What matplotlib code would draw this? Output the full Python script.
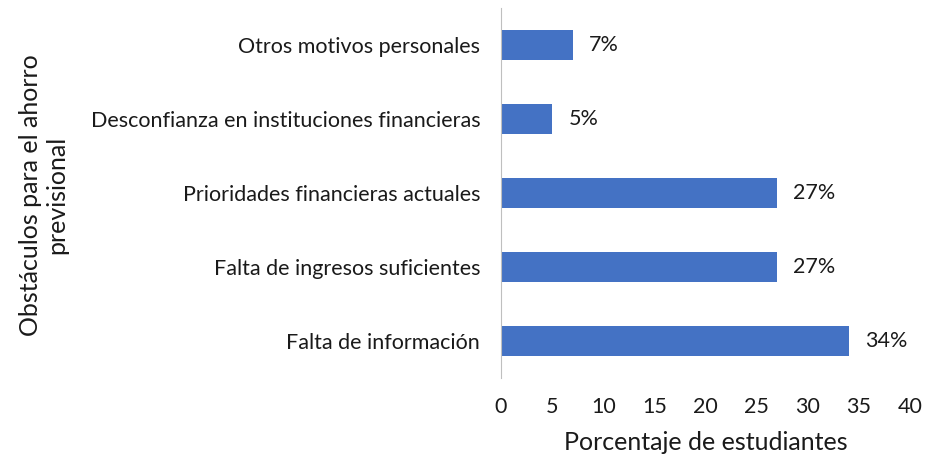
import matplotlib.pyplot as plt

plt.rcParams['font.family'] = ['Lato', 'DejaVu Sans']

categorias = ["Falta de información", "Falta de ingresos suficientes",
              "Prioridades financieras actuales",
              "Desconfianza en instituciones financieras",
              "Otros motivos personales"]
valores = [34, 27, 27, 5, 7]
etiquetas = ["34%", "27%", "27%", "5%", "7%"]

texto = "#1A1A1A"

fig = plt.figure(figsize=(9.27, 4.65), dpi=100)
ax = fig.add_axes([0.5405, 0.187, 0.4412, 0.796])

bars = ax.barh(range(len(categorias)), valores, height=0.4, color="#4472C4")
for b, lab in zip(bars, etiquetas):
    ax.text(b.get_width() + 1.6, b.get_y() + b.get_height() / 2, lab,
            va="center", ha="left", fontsize=15.5, color=texto)

ax.set_yticks(range(len(categorias)))
ax.set_yticklabels(categorias, fontsize=15.5, color=texto)
ax.set_xlim(0, 40)
ax.set_ylim(-0.5, 4.5)
ax.set_xticks(range(0, 41, 5))
ax.tick_params(axis="x", labelsize=15.5, colors=texto, length=0, pad=14)
ax.tick_params(axis="y", length=0, pad=15)
for s in ["top", "right", "bottom"]:
    ax.spines[s].set_visible(False)
ax.spines["left"].set_color("#BFBFBF")

ax.set_xlabel("Porcentaje de estudiantes", fontsize=18, color=texto, labelpad=10)
fig.text(0.047, 0.58, "Obstáculos para el ahorro\nprevisional", rotation=90,
         ha="center", va="center", fontsize=18, color=texto, linespacing=1.15)

fig.savefig("out.png", dpi=100)
